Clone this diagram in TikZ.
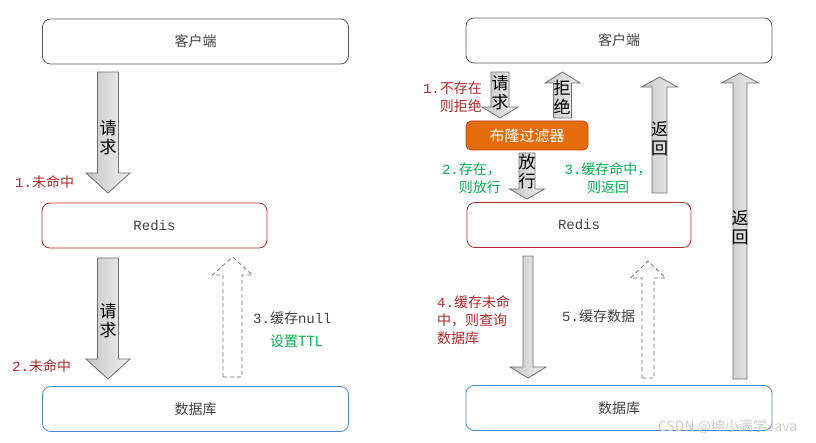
\documentclass[tikz,border=0pt]{standalone}
\usepackage{fontspec}
\setmainfont{Noto Sans CJK SC}
\newfontfamily\monofont{Liberation Mono}
\usetikzlibrary{calc}
\definecolor{boxgray}{RGB}{89,89,89}
\definecolor{nicered}{RGB}{178,40,40}
\definecolor{niceblue}{RGB}{74,134,216}
\definecolor{nicegreen}{RGB}{0,176,80}
\definecolor{bloomorange}{RGB}{228,108,10}
\definecolor{bloomedge}{RGB}{192,64,40}
\definecolor{txtgray}{RGB}{64,64,64}
\definecolor{arrgray}{RGB}{110,110,110}
\definecolor{wmgray}{RGB}{205,205,205}

% block arrows: [style]{start}{tip}{shaft half}{head half}{head length}
\newcommand{\blockdown}[6][blk]{%
  \draw[#1] let \p1=(#2), \p2=(#3) in
    (\x1-#4pt,\y1) -- (\x1+#4pt,\y1) -- (\x1+#4pt,\y2+#6pt) -- (\x1+#5pt,\y2+#6pt)
    -- (\x2,\y2) -- (\x1-#5pt,\y2+#6pt) -- (\x1-#4pt,\y2+#6pt) -- cycle;}
\newcommand{\blockup}[6][blk]{%
  \draw[#1] let \p1=(#2), \p2=(#3) in
    (\x1-#4pt,\y1) -- (\x1+#4pt,\y1) -- (\x1+#4pt,\y2-#6pt) -- (\x1+#5pt,\y2-#6pt)
    -- (\x2,\y2) -- (\x1-#5pt,\y2-#6pt) -- (\x1-#4pt,\y2-#6pt) -- cycle;}

\begin{document}
\begin{tikzpicture}[x=1pt, y=-1pt,
    box/.style={draw=boxgray, line width=0.8pt, rounded corners=8pt, minimum width=306pt,
      minimum height=45pt, text=txtgray, font=\fontsize{14}{16}\selectfont},
    blk/.style={draw=arrgray, line width=0.8pt, left color=gray!45, right color=gray!12},
    dsh/.style={draw=arrgray, line width=0.8pt, dash pattern=on 4pt off 3pt, fill=white},
    arrtxt/.style={align=center, inner sep=0pt, font=\fontsize{17}{19}\selectfont},
    lbl/.style={inner sep=0pt, font=\fontsize{14}{18}\selectfont}]
  \useasboundingbox (0,0) rectangle (816,443);

  % left: cache null
  \node (client) at (195.5,41.5) [box] {客户端};
  \node (redis) at (154.5,225.5) [box, draw=nicered, minimum width=225pt] {\monofont Redis};
  \node (db) at (195.5,409) [box, draw=niceblue] {数据库};

  \coordinate (a1s) at (108,72);
  \coordinate (a1e) at (108,193);
  \coordinate (a2s) at (108,258);
  \coordinate (a2e) at (108,379);
  \coordinate (a3s) at (232.5,377);
  \coordinate (a3e) at (232.5,257);
  \blockdown{a1s}{a1e}{10.5}{22}{20}
  \blockdown{a2s}{a2e}{10.5}{22}{20}
  \blockup[dsh]{a3s}{a3e}{9.5}{20}{18}
  \node (a1txt) at (108,138) [arrtxt] {请\\求};
  \node (a2txt) at (108,321) [arrtxt] {请\\求};

  \node (l1) at (15,182) [lbl, anchor=west, text=nicered] {{\monofont 1.}未命中};
  \node (l2) at (12,366) [lbl, anchor=west, text=nicered] {{\monofont 2.}未命中};
  \node (l3) at (253,318) [lbl, anchor=west, text=txtgray] {{\monofont 3.}缓存{\monofont null}};
  \node (l4) at (270,341) [lbl, anchor=west, text=nicegreen] {设置TTL};

  % right: bloom filter
  \node (client2) at (619,40.5) [box] {客户端};
  \node (bloom) at (527,135.5) [box, fill=bloomorange, draw=bloomedge, minimum width=122pt,
    minimum height=29pt, rounded corners=5pt, text=white, font=\fontsize{15}{17}\selectfont] {布隆过滤器};
  \node (redis2) at (579,225) [box, draw=nicered, minimum width=224pt] {\monofont Redis};
  \node (db2) at (619,408) [box, draw=niceblue] {数据库};

  \coordinate (b1s) at (500,72);
  \coordinate (b1e) at (500,118);
  \coordinate (b2s) at (562.5,118);
  \coordinate (b2e) at (562.5,72);
  \coordinate (b3s) at (527,153);
  \coordinate (b3e) at (527,199);
  \coordinate (b4s) at (659.5,193);
  \coordinate (b4e) at (659.5,77);
  \coordinate (b5s) at (528,256);
  \coordinate (b5e) at (528,378);
  \coordinate (b6s) at (648,378);
  \coordinate (b6e) at (648,261);
  \coordinate (b7s) at (740,379);
  \coordinate (b7e) at (740,73);
  \blockdown{b1s}{b1e}{9}{18}{11}
  \blockup{b2s}{b2e}{9}{17.5}{11}
  \blockdown{b3s}{b3e}{8}{17.5}{10}
  \blockup{b4s}{b4e}{7.5}{18}{10}
  \blockdown{b5s}{b5e}{5}{18}{11}
  \blockup[dsh]{b6s}{b6e}{6}{17.5}{17}
  \blockup{b7s}{b7e}{7}{18.5}{10}
  \node (b1txt) at (500,92.5) [arrtxt] {请\\求};
  \node (b2txt) at (562,97.5) [arrtxt] {拒\\绝};
  \node (b3txt) at (527,172) [arrtxt] {放\\行};
  \node (b4txt) at (659.5,139) [arrtxt] {返\\回};
  \node (b7txt) at (740,227.5) [arrtxt] {返\\回};

  \node (r1) at (482,97.5) [lbl, anchor=east, align=right, text=nicered] {{\monofont 1.}不存在\\则拒绝};
  \node (r2) at (501,178) [lbl, anchor=east, align=right, text=nicegreen] {{\monofont 2.}存在，\\则放行};
  \node (r3) at (608,178) [lbl, align=center, text=nicegreen] {{\monofont 3.}缓存命中，\\则返回};
  \node (r4) at (437,320) [lbl, anchor=west, align=left, text=nicered] {{\monofont 4.}缓存未命\\中，则查询\\数据库};
  \node (r5) at (562,316) [lbl, anchor=west, text=txtgray] {{\monofont 5.}缓存数据};

  \node (wm) at (727.5,427) [text=wmgray, inner sep=0pt, font=\fontsize{14}{16}\selectfont] {CSDN @坤小满学Java};
\end{tikzpicture}
\end{document}
